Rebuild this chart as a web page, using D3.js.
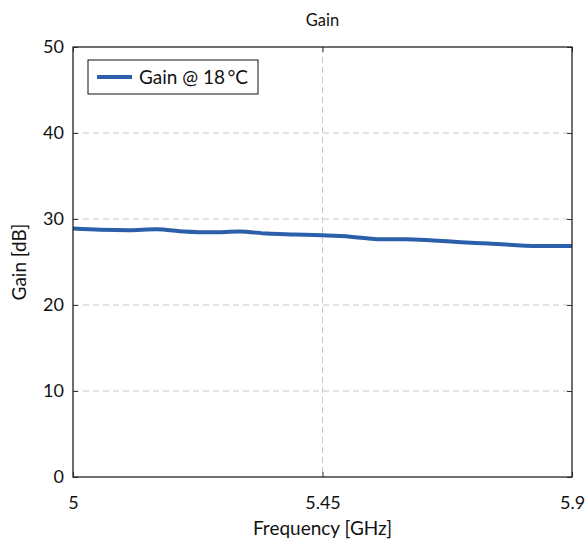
<!DOCTYPE html>
<html>
<head>
<meta charset="utf-8">
<script src="https://cdn.jsdelivr.net/npm/d3@7"></script>
<style>
  body { margin: 0; background: #fff; }
  svg { font-family: Lato, "DejaVu Sans", sans-serif; }
</style>
</head>
<body>
<div id="chart"></div>
<script>
// data
const freqs = [5.00, 5.05, 5.10, 5.15, 5.20, 5.25, 5.30, 5.35, 5.40, 5.45,
               5.50, 5.55, 5.60, 5.65, 5.70, 5.75, 5.80, 5.85, 5.90];
const gain = [28.9, 28.75, 28.7, 28.8, 28.55, 28.45, 28.55, 28.3, 28.2, 28.1,
              27.95, 27.65, 27.65, 27.5, 27.3, 27.15, 26.95, 26.85, 26.85];
const xTicks = [5, 5.45, 5.9];
const yTicks = [0, 10, 20, 30, 40, 50];
const seriesName = "Gain @ 18\u2009\u00b0C";

const width = 588, height = 542;
const margin = {left: 73, right: 16, top: 47, bottom: 65};
const w = width - margin.left - margin.right,
      h = height - margin.top - margin.bottom;

const svg = d3.select("#chart").append("svg")
    .attr("width", width)
    .attr("height", height);
const g = svg.append("g")
    .attr("transform", "translate(" + margin.left + "," + margin.top + ")");

const x = d3.scaleLinear().domain([5, 5.9]).range([0, w]);
const y = d3.scaleLinear().domain([0, 50]).range([h, 0]);

// grid
g.append("g").selectAll("line")
    .data(yTicks.filter(d => d > 0 && d < 50))
    .join("line")
    .attr("x1", 0).attr("x2", w)
    .attr("y1", d => y(d)).attr("y2", d => y(d))
    .attr("stroke", "#c8c8c8").attr("stroke-dasharray", "6,4");
g.append("g").selectAll("line")
    .data(xTicks.filter(d => d > 5 && d < 5.9))
    .join("line")
    .attr("y1", 0).attr("y2", h)
    .attr("x1", d => x(d)).attr("x2", d => x(d))
    .attr("stroke", "#c8c8c8").attr("stroke-dasharray", "6,4");

// line
const line = d3.line().x((d, i) => x(freqs[i])).y(d => y(d)).curve(d3.curveMonotoneX);
g.append("path")
    .datum(gain)
    .attr("d", line)
    .attr("fill", "none")
    .attr("stroke", "#2b5fa9")
    .attr("stroke-width", 4)
    .attr("stroke-linejoin", "round");

// axes, ticks inward and mirrored
const tickFmt = d => String(d);
const xAxis = d3.axisBottom(x).tickValues(xTicks).tickSize(-5).tickPadding(19).tickFormat(tickFmt);
const yAxis = d3.axisLeft(y).tickValues(yTicks).tickSize(-5).tickPadding(9).tickFormat(tickFmt);

const xg = g.append("g").attr("transform", "translate(0," + h + ")").call(xAxis);
const yg = g.append("g").call(yAxis);
g.append("g").call(d3.axisTop(x).tickValues(xTicks).tickSize(-5).tickFormat(""));
g.append("g").attr("transform", "translate(" + w + ",0)")
    .call(d3.axisRight(y).tickValues(yTicks).tickSize(-5).tickFormat(""));

g.selectAll(".domain").remove();
g.selectAll(".tick line").attr("stroke", "#333");
[xg, yg].forEach(a => a.selectAll("text")
    .attr("font-size", 18).attr("fill", "#111")
    .style("font-family", "Lato, 'DejaVu Sans', sans-serif"));

g.append("rect")
    .attr("width", w).attr("height", h)
    .attr("fill", "none").attr("stroke", "#222").attr("stroke-width", 1.3);

// legend
const lg = g.append("g").attr("transform", "translate(15,13)");
lg.append("rect").attr("width", 170).attr("height", 34)
    .attr("fill", "#fff").attr("stroke", "#111").attr("stroke-width", 1);
lg.append("line").attr("x1", 9).attr("x2", 44).attr("y1", 17).attr("y2", 17)
    .attr("stroke", "#2b5fa9").attr("stroke-width", 4);
lg.append("text").attr("x", 51).attr("y", 24)
    .attr("font-size", 19).attr("fill", "#111").text(seriesName);

// labels
svg.append("text").attr("x", margin.left + w / 2).attr("y", 26)
    .attr("text-anchor", "middle").attr("font-size", 16.5).attr("fill", "#111").text("Gain");
svg.append("text").attr("x", margin.left + w / 2).attr("y", 535)
    .attr("text-anchor", "middle").attr("font-size", 19).attr("fill", "#111").text("Frequency [GHz]");
svg.append("text")
    .attr("transform", "translate(26," + (margin.top + h / 2) + ") rotate(-90)")
    .attr("text-anchor", "middle").attr("font-size", 19).attr("fill", "#111").text("Gain [dB]");
</script>
</body>
</html>
